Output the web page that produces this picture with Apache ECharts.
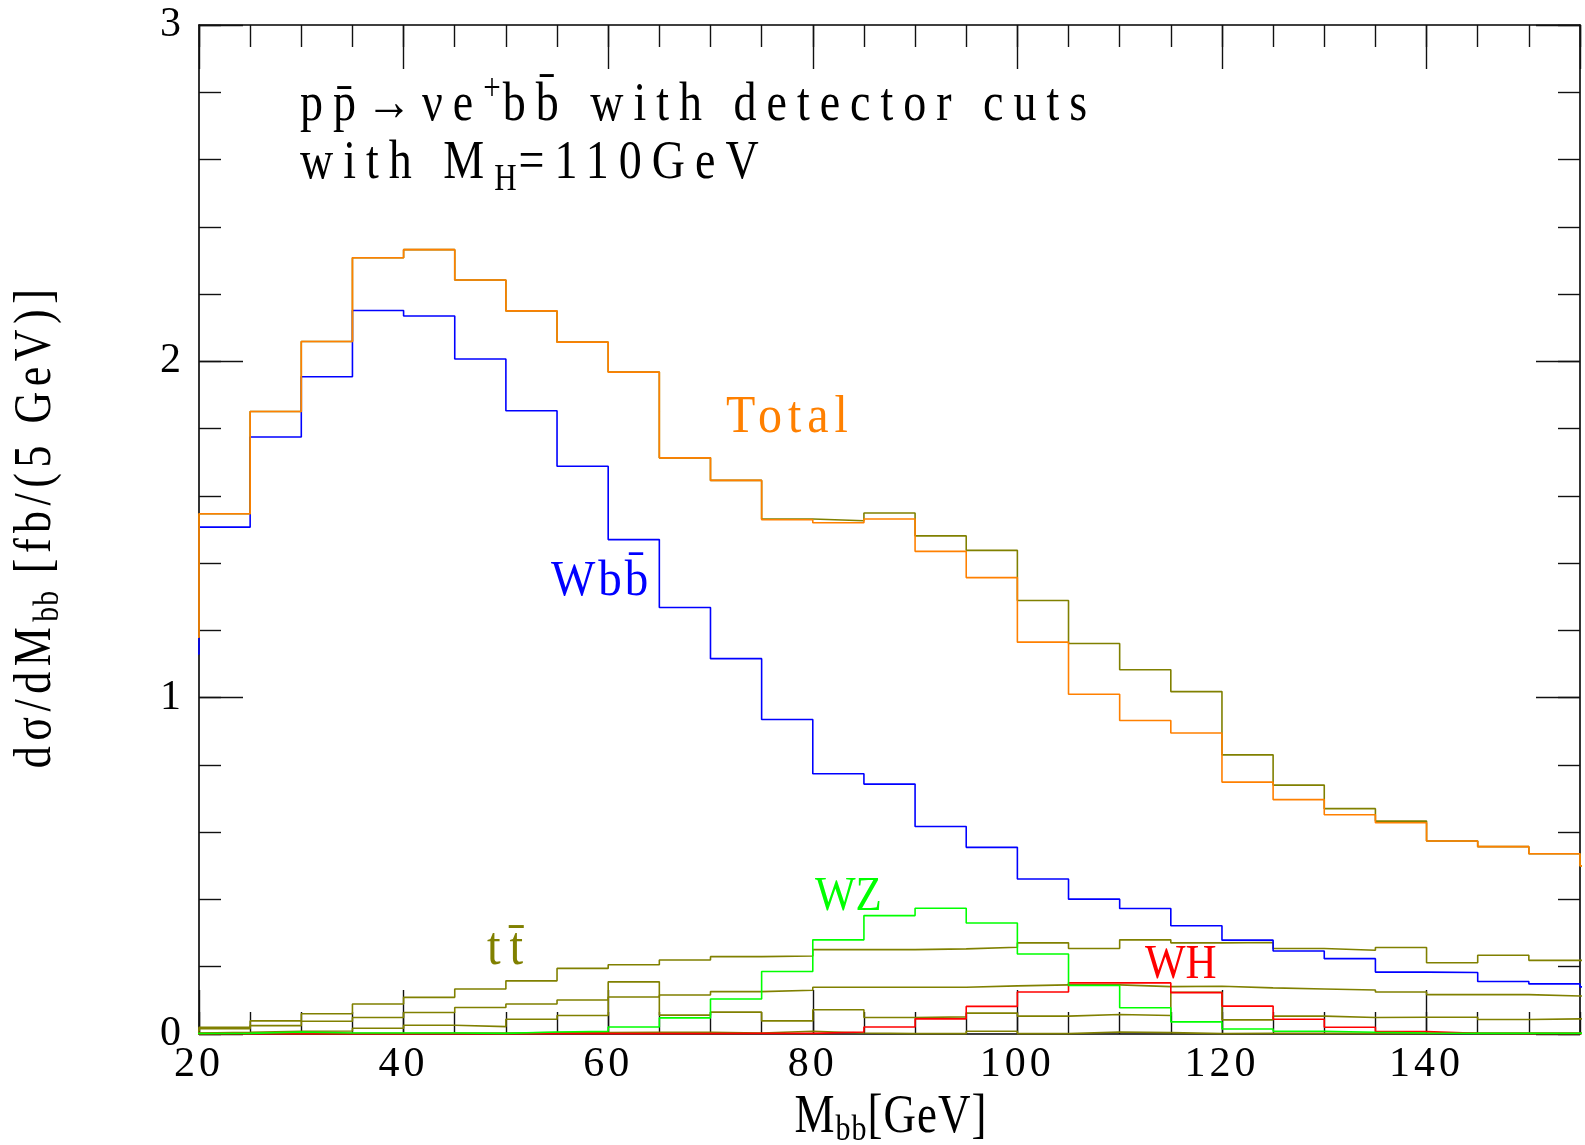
<!DOCTYPE html>
<html><head><meta charset="utf-8">
<script src="https://cdn.jsdelivr.net/npm/echarts@6/dist/echarts.min.js"></script>
<style>html,body{margin:0;padding:0;background:#fff}#c{width:1585px;height:1145px}</style>
</head><body><div id="c"></div><script>
// bin edges (GeV); first bin 15-20 and last bin 155-160 lie outside the drawn range
const binEdges = [15,20,25,30,35,40,45,50,55,60,65,70,75,80,85,90,95,100,105,110,115,120,125,130,135,140,145,150,155,160];
const totalWithWH = [1.18, 1.547,1.851,2.059,2.308,2.332,2.242,2.150,2.057,1.968,1.713,1.646,1.531,1.526,1.549,1.481,1.438,1.289,1.161,1.083,1.018,0.830,0.740,0.670,0.633,0.574,0.557,0.536, 0.50];
const total = [1.18, 1.547,1.851,2.059,2.308,2.332,2.242,2.150,2.057,1.968,1.713,1.646,1.529,1.520,1.531,1.435,1.357,1.165,1.010,0.932,0.895,0.749,0.697,0.652,0.628,0.574,0.557,0.536, 0.50];
const wbb = [1.13, 1.507,1.775,1.954,2.151,2.135,2.007,1.853,1.688,1.470,1.268,1.116,0.935,0.774,0.743,0.617,0.555,0.461,0.401,0.373,0.322,0.279,0.247,0.224,0.184,0.183,0.156,0.149, 0.14];
const ttA = [0.010, 0.020,0.039,0.060,0.089,0.109,0.134,0.158,0.195,0.206,0.220,0.230,0.232,0.251,0.251,0.253,0.258,0.271,0.254,0.280,0.271,0.272,0.254,0.249,0.257,0.212,0.234,0.219, 0.22];
const ttB = [0.008, 0.016,0.025,0.038,0.049,0.064,0.079,0.089,0.101,0.110,0.116,0.126,0.130,0.139,0.139,0.139,0.143,0.146,0.146,0.141,0.142,0.137,0.134,0.131,0.125,0.117,0.117,0.113, 0.11];
const ttC = [0.003, 0.005,0.008,0.009,0.017,0.026,0.022,0.044,0.055,0.155,0.056,0.065,0.039,0.072,0.049,0.051,0.062,0.053,0.058,0.055,0.124,0.042,0.053,0.049,0.050,0.050,0.043,0.045, 0.045];
const ttD = [0.002, 0.003,0.002,0.002,0.002,0.003,0.003,0.004,0.004,0.005,0.005,0.003,0.008,0.003,0.001,0.001,0.008,0.001,0.006,0.004,0.001,0.002,0.002,0.002,0.002,0.003,0.003,0.003, 0.003];
const wz = [0.001, 0.002,0.006,0.003,0.003,0.003,0.002,0.006,0.008,0.021,0.048,0.104,0.186,0.280,0.352,0.374,0.330,0.238,0.144,0.078,0.036,0.015,0.008,0.005,0.003,0.002,0.002,0.002, 0.002];
const wh = [0.000, 0.000,0.000,0.000,0.000,0.000,0.000,0.001,0.001,0.001,0.001,0.002,0.002,0.006,0.021,0.045,0.082,0.125,0.152,0.152,0.123,0.083,0.044,0.020,0.007,0.002,0.001,0.001, 0.000];
const xTicks = [20,40,60,80,100,120,140];
const yTicks = [0,1,2,3];

const ORANGE='#ff8000', BLUE='#0000ff', GREEN='#00ff00', RED='#ff0000', OLIVE='#808000';
const FONT='"Liberation Serif", "DejaVu Serif", serif';

// letter spacing (px) per font size, to imitate the widely spaced plotting font
const SPACING = {46:10, 31:2, 42:4, 44:5.5, 45:1, 30:1, 48:6, 47:3, 43:0, 49:9};
(function(){
  const P = CanvasRenderingContext2D.prototype;
  if (!('letterSpacing' in P)) return;
  const setLS = ctx => {
    const m = /(\d+(?:\.\d+)?)px/.exec(ctx.font);
    const fs = m ? Math.round(parseFloat(m[1])) : 0;
    const v = (SPACING[fs] || 0) + 'px';
    if (ctx.letterSpacing !== v) ctx.letterSpacing = v;
  };
  const f = P.fillText, mt = P.measureText;
  P.fillText = function(){ setLS(this); return f.apply(this, arguments); };
  P.measureText = function(){ setLS(this); return mt.apply(this, arguments); };
})();

function hist(vals){
  const d = vals.map((v,i)=>[binEdges[i], v]);
  d.push([binEdges[binEdges.length-1], vals[vals.length-1]]);
  return d;
}
function mk(name, vals, color, z){
  return {type:'line', name, step:'end', symbol:'none', showSymbol:false, clip:true, silent:true,
    data: hist(vals), lineStyle:{color, width:1.6}, itemStyle:{color}, z, animation:false};
}
const tickStyle = {color:'#111', width:1.4};
function xAx(pos, interval, len, labels){
  return {type:'value', position:pos, min:20, max:155, interval,
    axisLine:{show: interval===5, onZero:false, lineStyle:{color:'#000', width:1.6}},
    axisTick:{show:true, inside:true, length:len, lineStyle:tickStyle},
    splitLine:{show:false},
    axisLabel: labels ? {show:true, fontFamily:FONT, fontSize:42, color:'#000', margin:8,
       showMaxLabel:false, formatter:v=> xTicks.includes(v)? String(v):''} : {show:false}};
}
function yAx(pos, interval, len, labels){
  return {type:'value', position:pos, min:0, max:3, interval,
    axisLine:{show: interval!==1, onZero:false, lineStyle:{color:'#000', width:1.6}},
    axisTick:{show:true, inside:true, length:len, lineStyle:tickStyle},
    splitLine:{show:false},
    axisLabel: labels ? {show:true, fontFamily:FONT, fontSize:42, color:'#000', margin:14,
       formatter:v=> yTicks.includes(v)? String(v):''} : {show:false}};
}

const chart = echarts.init(document.getElementById('c'), null, {renderer:'canvas'});
const titleRich = {sup:{fontFamily:FONT, fontSize:31, lineHeight:60, verticalAlign:'top', fill:'#000'},
                   n:{fontFamily:FONT, fontSize:46, lineHeight:60, fill:'#000'},
                   sub:{fontFamily:FONT, fontSize:31, lineHeight:60, verticalAlign:'bottom', fill:'#000'}};
chart.setOption({
  animation:false,
  backgroundColor:'#fff',
  grid:{left:199, right:5, top:25, bottom:111, containLabel:false},
  xAxis:[ xAx('bottom',5,22,false), xAx('bottom',20,44,true), xAx('top',5,22,false), xAx('top',20,44,false) ],
  yAxis:[ yAx('left',0.2,22,false), yAx('left',1,44,true), yAx('right',0.2,22,false), yAx('right',1,44,false) ],
  series:[
    mk('tt A', ttA, OLIVE, 2), mk('tt B', ttB, OLIVE, 2), mk('tt C', ttC, OLIVE, 2), mk('tt D', ttD, OLIVE, 2),
    mk('WH', wh, RED, 3), mk('WZ', wz, GREEN, 3),
    mk('Wbb', wbb, BLUE, 4),
    mk('Total+WH', totalWithWH, OLIVE, 5),
    mk('Total', total, ORANGE, 6)
  ],
  graphic:[
    {type:'text', x:300, y:106, scaleY:1.2, silent:true, style:{
      text:'{n|pp\u0304\u2192\u03bde}{sup|+}{n|bb\u0304 with detector cuts}', rich:titleRich,
      align:'left', verticalAlign:'middle', fill:'#000'}},
    {type:'text', x:300, y:164, scaleY:1.2, silent:true, style:{
      text:'{n|with M}{sub|H}{n|=110GeV}', rich:titleRich,
      align:'left', verticalAlign:'middle', fill:'#000'}},
    {type:'text', x:726, y:418, scaleY:1.1, silent:true, style:{text:'Total', font:'48px '+FONT, fill:ORANGE, align:'left', verticalAlign:'middle'}},
    {type:'text', x:551, y:581, scaleY:1.1, silent:true, style:{text:'Wbb\u0304', font:'47px '+FONT, fill:BLUE, align:'left', verticalAlign:'middle'}},
    {type:'text', x:815, y:897, scaleY:1.15, silent:true, style:{text:'WZ', font:'43px '+FONT, fill:GREEN, align:'left', verticalAlign:'middle'}},
    {type:'text', x:487, y:950, scaleY:1.1, silent:true, style:{text:'tt\u0304', font:'49px '+FONT, fill:OLIVE, align:'left', verticalAlign:'middle'}},
    {type:'text', x:1145, y:965, scaleY:1.15, silent:true, style:{text:'WH', font:'43px '+FONT, fill:RED, align:'left', verticalAlign:'middle'}},
    {type:'text', x:891, y:1118, scaleY:1.2, silent:true, style:{
      text:'{n|M}{sub|bb}{n|[GeV]}',
      rich:{n:{fontFamily:FONT, fontSize:45, lineHeight:52, fill:'#000'}, sub:{fontFamily:FONT, fontSize:30, lineHeight:52, verticalAlign:'bottom', fill:'#000'}},
      align:'center', verticalAlign:'middle'}},
    {type:'text', x:36, y:526, rotation:Math.PI/2, scaleY:1.2, silent:true, style:{
      text:'{n|d\u03c3/dM}{sub|bb}{n| [fb/(5 GeV)]}',
      rich:{n:{fontFamily:FONT, fontSize:44, lineHeight:52, fill:'#000'}, sub:{fontFamily:FONT, fontSize:30, lineHeight:52, verticalAlign:'bottom', fill:'#000'}},
      align:'center', verticalAlign:'middle'}}
  ]
});
</script></body></html>
